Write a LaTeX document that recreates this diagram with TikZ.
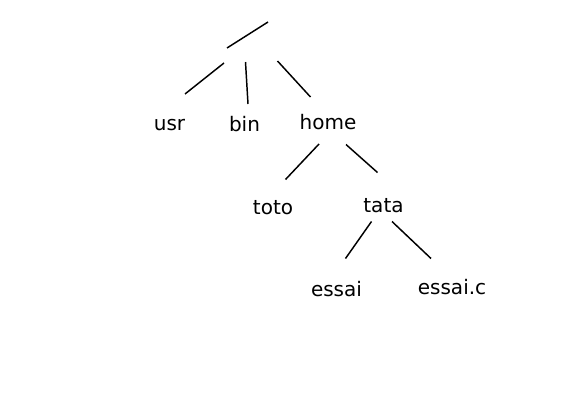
\documentclass[tikz,border=0pt]{standalone}
\usepackage{fontspec}
\setmainfont{DejaVu Sans}

\tikzset{every picture/.style={line width=1.1pt}}
\tikzset{dirname/.style={anchor=base,inner sep=0pt,font=\fontsize{15}{18}\selectfont}}

\begin{document}
\begin{tikzpicture}[x=0.75pt,y=0.75pt,yscale=-1,xscale=1]

\useasboundingbox (0,0) rectangle (574,407);

% root "/"
\coordinate (root-a) at (227,48);
\coordinate (root-b) at (268,22);
\draw (root-a) -- (root-b) ;

\draw (169.5,130) node [dirname] (usr)    {usr};
\draw (244.5,131) node [dirname] (bin)    {bin};
\draw (328,129.5) node [dirname] (home)   {home};
\draw (273,214) node [dirname] (toto)     {toto};
\draw (383.5,212) node [dirname] (tata)   {tata};
\draw (336.5,296.5) node [dirname] (essai) {essai};
\draw (452,294.5) node [dirname] (essaic) {essai.c};

% branch ends
\coordinate (usr-a) at (224,63);
\coordinate (usr-b) at (185,94);
\coordinate (bin-a) at (245.5,62);
\coordinate (bin-b) at (248,104);
\coordinate (home-a) at (277.5,61);
\coordinate (home-b) at (310.5,97);
\coordinate (toto-a) at (319,144);
\coordinate (toto-b) at (285.5,179.5);
\coordinate (tata-a) at (346,144.5);
\coordinate (tata-b) at (377.5,172.5);
\coordinate (essai-a) at (371.5,221.5);
\coordinate (essai-b) at (345.5,258.5);
\coordinate (essaic-a) at (392,221.5);
\coordinate (essaic-b) at (431,258.5);

\draw (usr-a) -- (usr-b) ;
\draw (bin-a) -- (bin-b) ;
\draw (home-a) -- (home-b) ;
\draw (toto-a) -- (toto-b) ;
\draw (tata-a) -- (tata-b) ;
\draw (essai-a) -- (essai-b) ;
\draw (essaic-a) -- (essaic-b) ;

\end{tikzpicture}
\end{document}
